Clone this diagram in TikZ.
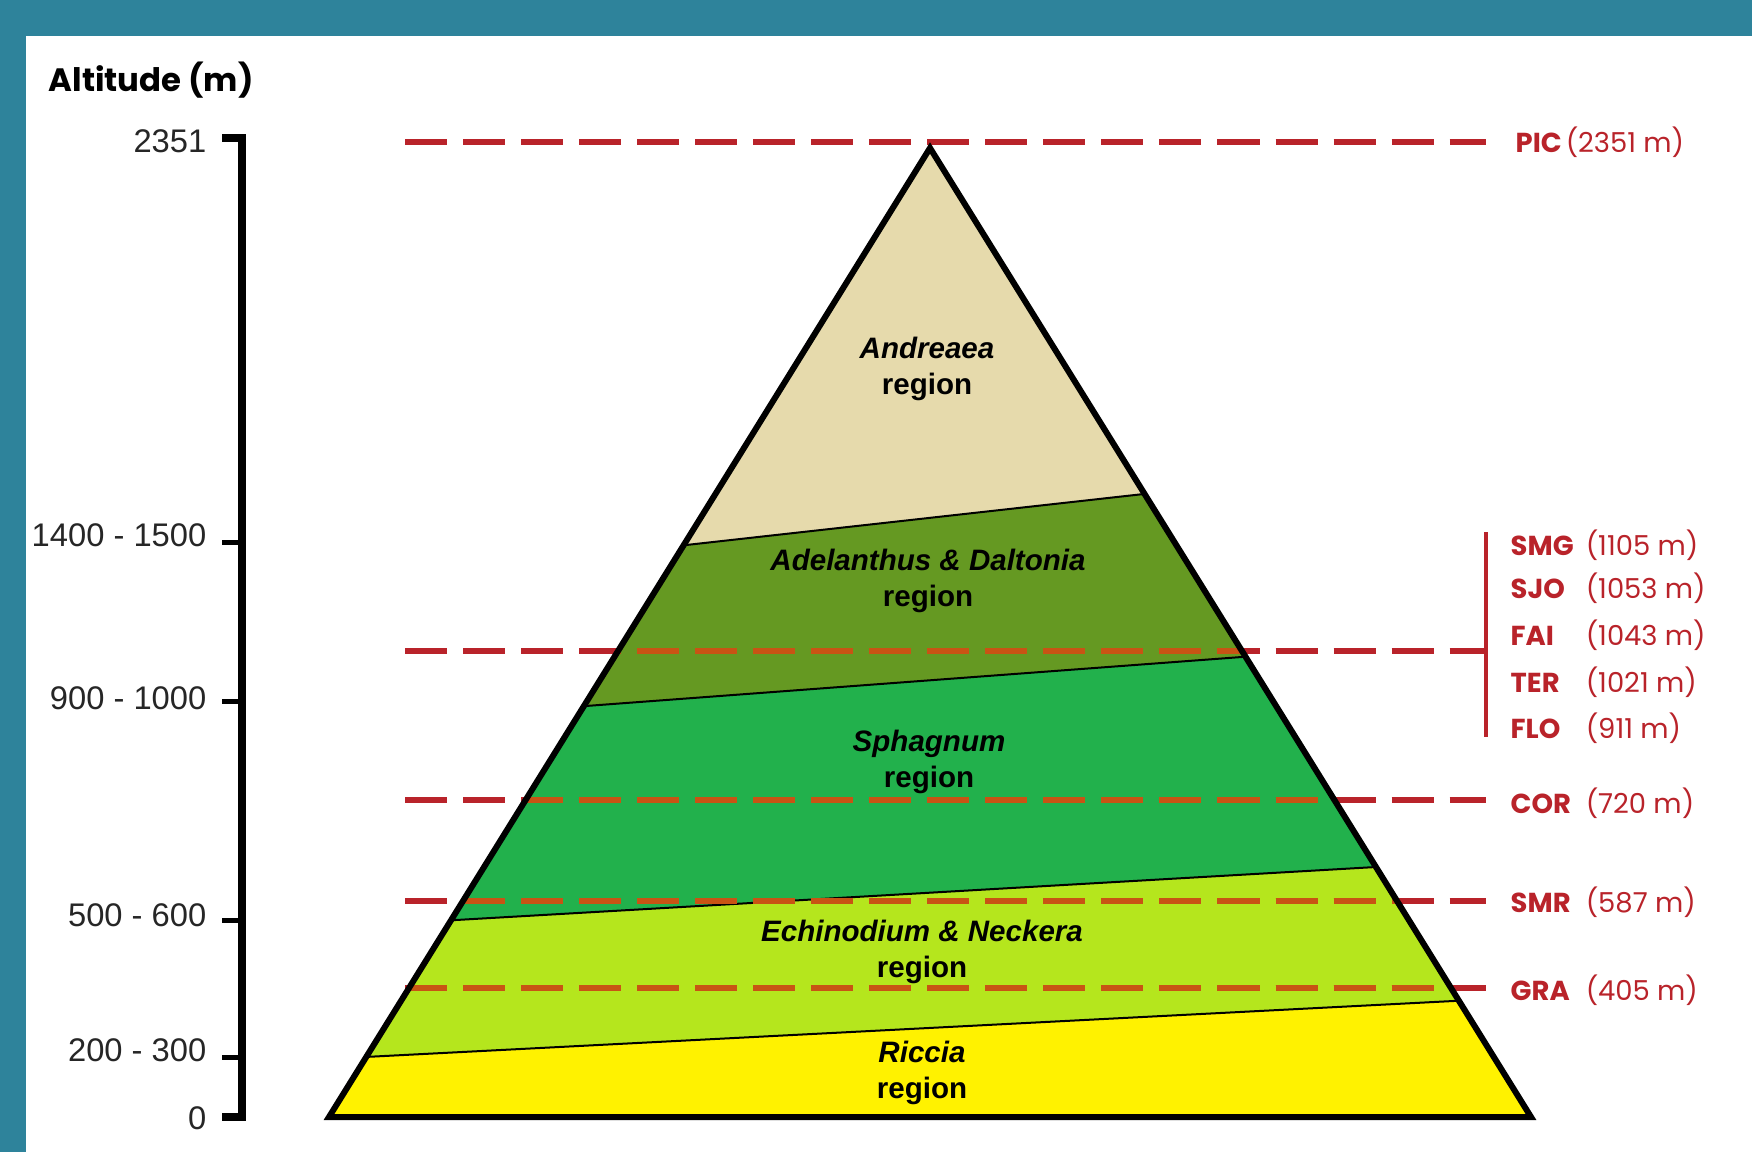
\documentclass[tikz,border=0pt]{standalone}
\usepackage{fontspec}
\setmainfont{Liberation Sans}
\newfontfamily\gothic{Poppins}
\usetikzlibrary{calc}

\definecolor{frame}{RGB}{46,131,155}
\definecolor{andreaea}{RGB}{230,218,172}
\definecolor{adelanthus}{RGB}{101,153,34}
\definecolor{sphagnum}{RGB}{34,177,76}
\definecolor{echinodium}{RGB}{181,230,29}
\definecolor{riccia}{RGB}{255,242,0}
\definecolor{sitered}{RGB}{185,35,42}
\definecolor{siteorange}{RGB}{200,84,20}

\tikzset{
  sitelevel/.style={line width=0.055cm, dash pattern=on 0.42cm off 0.16cm},
  station/.style={anchor=west, inner sep=0pt, text=sitered, font=\gothic\fontsize{7.8}{9}\selectfont},
  tickno/.style={anchor=east, inner sep=0pt, text=black!85, font=\fontsize{9.3}{11}\selectfont},
  zone/.style={align=center, inner sep=0pt, font=\fontsize{8.4}{10.2}\selectfont\bfseries},
  layer/.style={draw=black, line width=0.02cm},
}

\begin{document}
\begin{tikzpicture}[x=0.01cm, y=-0.01cm]
  \fill[frame] (0,0) rectangle (1752,1152);
  \fill[white] (26,36) rectangle (1752,1152);

  % the mountain
  \coordinate (A) at (930,148);
  \coordinate (BL) at (329,1117);
  \coordinate (BR) at (1531,1117);

  \coordinate (L1) at ($(BL)!0.590!(A)$); \coordinate (R1) at ($(BR)!0.643!(A)$);
  \coordinate (L2) at ($(BL)!0.424!(A)$); \coordinate (R2) at ($(BR)!0.475!(A)$);
  \coordinate (L3) at ($(BL)!0.203!(A)$); \coordinate (R3) at ($(BR)!0.258!(A)$);
  \coordinate (L4) at ($(BL)!0.062!(A)$); \coordinate (R4) at ($(BR)!0.120!(A)$);

  \fill[andreaea] (A) -- (R1) -- (L1) -- cycle;
  \fill[adelanthus] (L1) -- (R1) -- (R2) -- (L2) -- cycle;
  \fill[sphagnum] (L2) -- (R2) -- (R3) -- (L3) -- cycle;
  \fill[echinodium] (L3) -- (R3) -- (R4) -- (L4) -- cycle;
  \fill[riccia] (L4) -- (R4) -- (BR) -- (BL) -- cycle;
  \foreach \i in {1,...,4}
    \draw[layer] (L\i) -- (R\i);

  % sampling sites
  \foreach \y in {142,651,800,901,988}
    \draw[sitelevel, sitered] (405,\y) -- (1486,\y);
  \begin{scope}
    \clip (A) -- (BR) -- (BL) -- cycle;
    \foreach \y in {142,651,800,901,988}
      \draw[sitelevel, siteorange] (405,\y) -- (1486,\y);
  \end{scope}
  \draw[sitered, line width=0.045cm] (1486,532) -- (1486,737);

  \draw[line width=0.06cm, line join=miter] (A) -- (BR) -- (BL) -- cycle;

  \node[station] (PIC) at (1515,142) {\makebox[0.5cm][l]{\bfseries PIC}(2351 m)};
  \foreach \y/\code/\alt in {545/SMG/1105, 588/SJO/1053, 635/FAI/1043, 682/TER/1021,
                             728/FLO/911, 803/COR/720, 902/SMR/587, 990/GRA/405}
    \node[station] (\code) at (1510,\y) {\makebox[0.75cm][l]{\bfseries\code}(\alt\ m)};

  % altitude axis
  \node[anchor=west, inner sep=0pt, font=\gothic\bfseries\fontsize{9.2}{11}\selectfont] (axislabel) at (48,80) {Altitude (m)};
  \draw[line width=0.08cm] (222,138) -- (242,138) -- (242,1117) -- (222,1117);
  \foreach \y in {542,701,920,1057}
    \draw[line width=0.05cm] (222,\y) -- (242,\y);
  \foreach \y/\lab/\n in {141/2351/a, 535/1400 - 1500/b, 698/900 - 1000/c,
                          915/500 - 600/d, 1050/200 - 300/e, 1118/0/f}
    \node[tickno] (tick\n) at (207,\y) {\lab};

  % vegetation belts
  \node[zone] (andreaea) at (927,369) {{\itshape Andreaea}\\region};
  \node[zone] (adelanthus) at (928,581) {{\itshape Adelanthus \& Daltonia}\\region};
  \node[zone] (sphagnum) at (929,762) {{\itshape Sphagnum}\\region};
  \node[zone] (echinodium) at (922,952) {{\itshape Echinodium \& Neckera}\\region};
  \node[zone] (riccia) at (922,1073) {{\itshape Riccia}\\region};
\end{tikzpicture}
\end{document}
